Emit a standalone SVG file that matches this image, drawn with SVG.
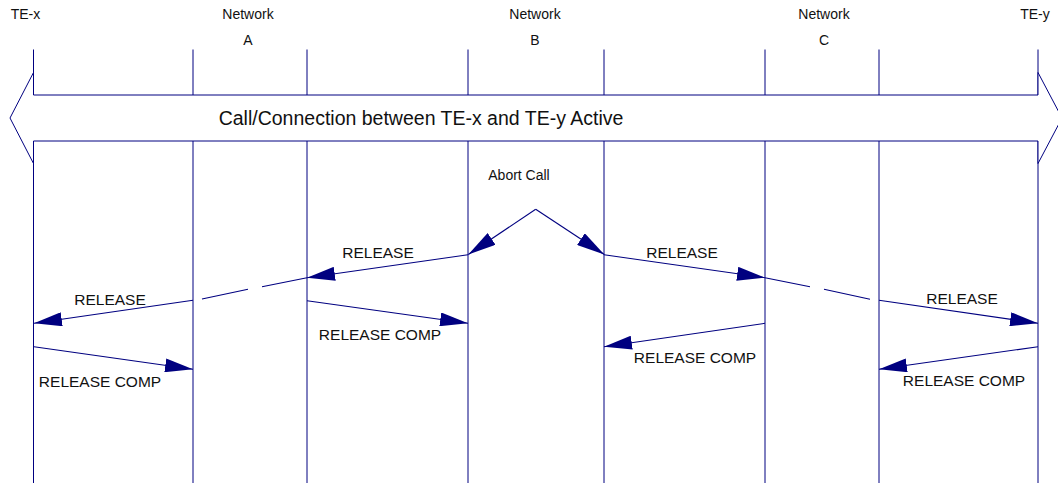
<svg xmlns="http://www.w3.org/2000/svg" width="1058" height="485" viewBox="0 0 1058 485">
<defs>
<style>
.life{stroke:#000080;stroke-width:1;fill:none}
.msg{stroke:#000080;stroke-width:1.1;fill:none}
.hdr{font-family:"Liberation Sans",Arial,sans-serif;font-size:14px;fill:#111;text-anchor:middle}
.lbl{font-family:"Liberation Sans",Arial,sans-serif;font-size:15.5px;fill:#111;text-anchor:middle}
.big{font-family:"Liberation Sans",Arial,sans-serif;font-size:19.5px;fill:#111;text-anchor:middle}
</style>
<marker id="ah" markerUnits="userSpaceOnUse" markerWidth="28" markerHeight="14" refX="28" refY="7" orient="auto" viewBox="0 0 28 14">
<path d="M0,0 L28,7 L0,14 Z" fill="#000080"/>
</marker>
</defs>
<rect width="1058" height="485" fill="#fff"/>
<g id="lifelines">
<g id="te-x"><text class="hdr" x="25.5" y="19">TE-x</text><line class="life" x1="33.5" y1="49.5" x2="33.5" y2="483"/></g>
<g id="network-a"><text class="hdr" x="248" y="19">Network</text><text class="hdr" x="248" y="45">A</text><line class="life" x1="193" y1="49.5" x2="193" y2="483"/><line class="life" x1="307" y1="49.5" x2="307" y2="483"/></g>
<g id="network-b"><text class="hdr" x="535" y="19">Network</text><text class="hdr" x="535" y="45">B</text><line class="life" x1="468" y1="49.5" x2="468" y2="483"/><line class="life" x1="604" y1="49.5" x2="604" y2="483"/></g>
<g id="network-c"><text class="hdr" x="824" y="19">Network</text><text class="hdr" x="824" y="45">C</text><line class="life" x1="765" y1="49.5" x2="765" y2="483"/><line class="life" x1="879" y1="49.5" x2="879" y2="483"/></g>
<g id="te-y"><text class="hdr" x="1035" y="19">TE-y</text><line class="life" x1="1038" y1="49.5" x2="1038" y2="483"/></g>
</g>
<g id="active-call">
<polygon points="33.5,95 33.5,72.5 10,118 33.5,163.5 33.5,141 1038,141 1038,163.5 1062,118 1038,72.5 1038,95" fill="#fff" stroke="#000080" stroke-width="1"/>
<text class="big" x="421" y="125">Call/Connection between TE-x and TE-y Active</text>
</g>
<g id="connectors">
<path class="msg" d="M535.7,209.3 L468.3,254.5" marker-end="url(#ah)"/>
<path class="msg" d="M535.7,209.3 L604.3,254.5" marker-end="url(#ah)"/>
<path class="msg" d="M468,254.7 L307,277.7" marker-end="url(#ah)"/>
<path class="msg" d="M307,277.7 L262,286.7 M248,289.3 L202,299"/>
<path class="msg" d="M193,300.3 L34,323.3" marker-end="url(#ah)"/>
<path class="msg" d="M307,300.7 L468,323.3" marker-end="url(#ah)"/>
<path class="msg" d="M34,346.7 L193,369.3" marker-end="url(#ah)"/>
<path class="msg" d="M604,254.7 L765,277.7" marker-end="url(#ah)"/>
<path class="msg" d="M765,277.7 L810,286.7 M824,289.3 L870,299.3"/>
<path class="msg" d="M879,300.3 L1038,323.3" marker-end="url(#ah)"/>
<path class="msg" d="M765,323.3 L604,346.7" marker-end="url(#ah)"/>
<path class="msg" d="M1038,346.7 L879,369.3" marker-end="url(#ah)"/>
</g>
<g id="labels">
<text class="hdr" x="519" y="180">Abort Call</text>
<text class="lbl" x="378" y="257.7">RELEASE</text>
<text class="lbl" x="110" y="305">RELEASE</text>
<text class="lbl" x="380" y="340">RELEASE COMP</text>
<text class="lbl" x="100" y="386.7">RELEASE COMP</text>
<text class="lbl" x="682" y="257.7">RELEASE</text>
<text class="lbl" x="962" y="304.3">RELEASE</text>
<text class="lbl" x="695" y="363.3">RELEASE COMP</text>
<text class="lbl" x="964" y="386">RELEASE COMP</text>
</g>
</svg>
